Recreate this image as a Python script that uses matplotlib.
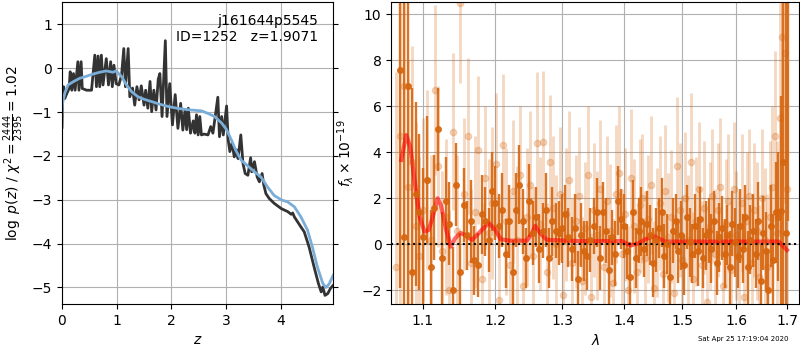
import numpy as np
import matplotlib
matplotlib.use('Agg')
import matplotlib.pyplot as plt
from matplotlib.ticker import FixedLocator, NullLocator, NullFormatter

# ---- p(z) panel ----
pz_z = [0.00, 0.01, 0.03, 0.05, 0.09, 0.13, 0.15, 0.18, 0.21, 0.24,
        0.29, 0.31, 0.35, 0.37, 0.45, 0.54, 0.60, 0.63, 0.66, 0.69,
        0.72, 0.75, 0.81, 0.85, 0.89, 0.92, 0.95, 0.99, 1.04, 1.09,
        1.13, 1.16, 1.21, 1.24, 1.29, 1.33, 1.37, 1.41, 1.45, 1.50,
        1.53, 1.57, 1.61, 1.64, 1.68, 1.72, 1.76, 1.79, 1.83, 1.89,
        1.92, 1.97, 2.02, 2.07, 2.12, 2.17, 2.21, 2.25, 2.28, 2.31,
        2.35, 2.40, 2.43, 2.46, 2.49, 2.52, 2.55, 2.60, 2.67, 2.72,
        2.76, 2.81, 2.85, 2.88, 2.92, 2.95, 3.01, 3.04, 3.07, 3.11,
        3.15, 3.19, 3.22, 3.27, 3.31, 3.35, 3.40, 3.45, 3.47, 3.52,
        3.57, 3.61, 3.66, 3.69, 3.73, 3.79, 3.88, 4.01, 4.13, 4.19,
        4.22, 4.25, 4.37, 4.43, 4.52, 4.61, 4.69, 4.74, 4.77, 4.81,
        4.86, 4.91, 4.96]
log_pz = [-1.35, -0.75, -0.42, -0.69, -0.57, -0.46, -0.08, -0.50, -0.12, -0.50,
          0.15, -0.50, 0.15, -0.46, -0.50, -0.50, 0.30, -0.42, 0.28, -0.42,
          0.30, -0.38, 0.22, -0.38, 0.15, -0.42, 0.07, -0.35, -0.38, -0.15,
          0.45, -0.42, 0.45, -0.65, -0.45, -0.84, -0.42, -0.72, -0.40, -0.84,
          -0.50, -0.91, -0.30, -0.99, -0.50, -0.95, -0.25, -0.12, -1.10, 0.63,
          -1.10, -0.35, -1.29, -0.60, -1.37, -0.80, -1.41, -0.95, -1.40, -0.91,
          -1.48, -1.20, -1.48, -1.06, -1.52, -1.10, -1.52, -1.50, -1.52, -1.33,
          -1.48, -1.03, -0.66, -1.56, -1.10, -1.52, -0.86, -1.64, -1.90, -1.70,
          -2.02, -1.86, -2.06, -1.52, -2.17, -2.40, -2.44, -2.04, -2.36, -2.13,
          -2.48, -2.59, -2.40, -2.66, -2.86, -2.97, -3.08, -3.20, -3.27, -3.33,
          -3.30, -3.39, -3.62, -3.73, -4.08, -4.53, -4.91, -5.10, -4.99, -5.18,
          -5.14, -5.02, -4.95]

chi_z = [0.00, 0.01, 0.05, 0.11, 0.20, 0.32, 0.45, 0.57, 0.69, 0.81,
         0.93, 0.99, 1.09, 1.18, 1.27, 1.39, 1.51, 1.64, 1.79, 1.97,
         2.15, 2.34, 2.55, 2.67, 2.79, 2.92, 3.01, 3.10, 3.19, 3.28,
         3.40, 3.52, 3.64, 3.76, 3.88, 4.01, 4.13, 4.25, 4.37, 4.49,
         4.58, 4.67, 4.77, 4.83, 4.89, 4.96]
chi_v = [-1.03, -0.80, -0.57, -0.38, -0.31, -0.23, -0.18, -0.13, -0.09, -0.06,
         -0.09, -0.06, -0.19, -0.38, -0.53, -0.65, -0.71, -0.76, -0.82, -0.88,
         -0.92, -0.95, -0.97, -1.03, -1.10, -1.25, -1.40, -1.64, -1.90, -2.10,
         -2.23, -2.36, -2.48, -2.71, -2.90, -3.00, -3.05, -3.16, -3.39, -3.69,
         -4.08, -4.53, -4.91, -5.00, -4.91, -4.72]

# ---- 1D spectrum panel ----
wl_a = np.linspace(1.071, 1.702, 128)
fl_a = [7.6, 0.3, 6.9, -1.2, 2.2, 1.4, 0.3, 2.8, -1.0, 1.6, 5.0, -0.6, 1.9, 0.9, -2.0, 2.6,
        -1.2, 1.7, 0.4, 1.0, -0.7, -0.9, 1.3, 1.0, 0.2, 2.3, 1.8, 0.8, 1.5, -0.4, 1.0, -1.2,
        1.5, 2.6, 1.0, -0.6, 1.9, 0.5, 1.2, -0.2, 0.6, 1.5, -0.6, 1.0, 0.6, 0.5, 0.7, 1.3,
        0.3, -0.2, 0.7, -1.5, 0.4, -0.3, -0.5, 0.2, 0.8, 1.4, -0.6, 1.4, 0.6, -1.1, 0.3, -0.4,
        1.9, 1.1, 0.8, -0.3, -1.4, 1.4, -0.6, 0.6, 1.0, -0.2, 0.9, 0.4, -0.8, 0.2, 0.7, 1.4,
        -0.5, 0.0, -1.4, 0.6, 1.0, -0.3, 0.4, -0.9, 1.2, 0.1, -0.4, 0.8, -0.3, 1.1, -0.6, 0.4,
        0.6, -0.2, 1.0, -0.8, 0.3, 0.7, -0.4, 0.4, -1.0, 0.9, 0.1, -0.5, 0.8, -0.2, 1.2, -1.0,
        0.2, 0.6, -0.4, 1.0, -1.6, 0.5, -0.3, -2.0, 0.8, -0.7, 1.4, 1.2, 1.45, 3.6, 0.5, 13.0]
er_a = [9.5, 11.0, 10.0, 8.0, 4.0, 3.4, 3.0, 2.8, 2.5, 2.3, 1.8, 2.0, 1.9, 1.8, 1.9, 1.8,
        1.7, 1.6, 1.5, 1.8, 1.5, 1.4, 1.7, 1.5, 1.4, 1.7, 1.6, 1.4, 1.6, 1.5, 1.6, 1.4,
        1.6, 1.7, 1.4, 1.3, 1.6, 1.4, 1.3, 1.5, 1.2, 1.6, 1.3, 1.5, 1.2, 1.4, 1.5, 1.3,
        1.3, 1.4, 1.5, 1.2, 1.4, 1.3, 1.5, 1.4, 1.2, 1.5, 1.4, 1.3, 1.4, 1.5, 1.2, 1.4,
        1.5, 1.3, 1.4, 1.2, 1.5, 1.4, 1.3, 1.4, 1.5, 1.2, 1.4, 1.3, 1.5, 1.4, 1.3, 1.5,
        1.4, 1.3, 1.5, 1.4, 1.2, 1.4, 1.5, 1.3, 1.4, 1.5, 1.3, 1.4, 1.5, 1.4, 1.3, 1.5,
        1.4, 1.5, 1.3, 1.4, 1.5, 1.4, 1.5, 1.3, 1.6, 1.4, 1.5, 1.4, 1.6, 1.5, 1.4, 1.6,
        1.5, 1.6, 1.5, 1.7, 1.6, 1.6, 1.7, 1.8, 1.8, 2.0, 2.2, 2.8, 5.0, 8.0, 12.0, 12.0]

wl_b = np.linspace(1.066, 1.700, 128)
fl_b = [-1.0, 4.7, 6.9, 2.5, 3.6, 0.8, -0.5, 1.5, 2.8, 0.2, 6.7, 3.4, -0.3, 1.2, -2.0, 4.9,
        0.6, 10.5, 2.2, 4.7, -0.8, 1.4, 4.1, -1.5, 2.9, 0.5, 1.8, 3.5, -2.4, 4.3, 1.0, -0.9,
        2.3, 0.2, 3.0, -1.8, 1.2, 2.6, -0.5, 4.4, 0.9, 4.45, -1.2, 3.6, 1.6, 0.0, 2.2, -2.2,
        1.3, 2.8, -0.8, 1.0, 2.1, -1.6, 0.7, 3.0, -2.3, 1.5, 0.4, 2.4, -1.0, 1.9, 0.6, -1.7,
        2.2, 3.1, -0.4, 1.3, -2.0, 2.9, 0.8, -1.2, 1.7, 2.0, -0.6, 1.1, 2.6, -1.9, 0.5, 1.8,
        -1.3, 2.3, 0.3, 1.2, -2.1, 3.4, 1.5, -0.7, 2.0, 0.2, 3.6, -1.5, 1.0, 2.4, -0.9, 1.6,
        -2.5, 0.8, 2.1, -0.4, 1.5, 2.5, -1.8, 0.9, 1.9, -1.1, 2.4, 0.4, -0.6, 1.8, -2.3, 1.0,
        2.1, -0.8, 1.5, 0.6, -1.4, 2.0, 0.2, -1.0, 1.2, 2.5, 4.7, 0.5, 5.5, 9.0, 8.3, 2.4]
er_b = [8.5, 7.5, 6.5, 5.5, 5.0, 4.5, 4.3, 4.0, 3.9, 3.7, 3.7, 3.5, 3.5, 3.4, 3.5, 3.4,
        3.3, 3.5, 3.3, 3.4, 3.2, 3.3, 3.2, 3.3, 3.1, 3.2, 3.3, 3.1, 3.2, 3.1, 3.2, 3.1,
        3.1, 3.2, 3.0, 3.1, 3.0, 3.2, 3.0, 3.1, 2.9, 3.1, 3.0, 2.9, 3.1, 3.0, 2.9, 3.0,
        2.9, 3.0, 2.8, 2.9, 3.0, 2.8, 2.9, 3.0, 2.8, 2.9, 2.8, 3.0, 2.9, 2.8, 2.9, 2.8,
        3.0, 2.9, 2.8, 2.9, 2.8, 3.0, 2.9, 2.8, 2.9, 2.8, 2.9, 2.8, 3.0, 2.9, 2.8, 2.9,
        2.8, 2.9, 2.8, 2.9, 2.8, 3.0, 2.9, 2.8, 2.9, 2.8, 3.0, 2.9, 2.8, 2.9, 2.8, 2.9,
        2.9, 2.8, 2.9, 2.8, 2.9, 3.0, 2.9, 2.8, 2.9, 3.0, 2.9, 2.8, 2.9, 3.0, 2.9, 3.0,
        2.9, 3.0, 2.9, 3.0, 3.1, 3.0, 3.1, 3.2, 3.3, 3.5, 3.7, 4.0, 5.0, 6.5, 6.5, 5.5]

mod_wl = [1.0724, 1.0788, 1.0840, 1.0918, 1.0962, 1.1026, 1.1079, 1.1124, 1.1199, 1.1244,
          1.1316, 1.1378, 1.1437, 1.1507, 1.1577, 1.1669, 1.1785, 1.1902, 1.2000, 1.2075,
          1.2213, 1.2461, 1.2536, 1.2586, 1.2661, 1.2763, 1.3300, 1.3959, 1.4098, 1.4237,
          1.4354, 1.4497, 1.4613, 1.4700, 1.5500, 1.6200, 1.6830, 1.7000]
mod_fl = [3.67, 4.75, 4.24, 2.22, 1.20, 0.55, 0.62, 1.06, 2.00, 1.71,
          0.62, -0.10, 0.26, 0.50, 0.40, 0.19, 0.55, 0.94, 0.62, 0.22,
          0.16, 0.16, 0.48, 0.80, 0.48, 0.19, 0.14, 0.14, -0.05, 0.04,
          0.22, 0.36, 0.22, 0.12, 0.12, 0.12, 0.12, -0.25]

wl_ticks = [1.1, 1.2, 1.3, 1.4, 1.5, 1.6, 1.7]

orange = '#d6660f'

fig = plt.figure(figsize=(8, 3.5), dpi=100)

ax = fig.add_axes([0.0775, 0.131, 0.339, 0.863])
ax.plot(pz_z, log_pz, color='0.2', lw=2)
ax.plot(chi_z, chi_v, color='#7aaed8', lw=2)
ax.set_xlim(0, 4.96)
ax.set_ylim(-5.38, 1.51)
ax.set_xticks([0, 1, 2, 3, 4])
ax.set_yticks([-5, -4, -3, -2, -1, 0, 1])
ax.tick_params(axis='y', right=True)
ax.grid()
ax.set_xlabel('$z$')
ax.set_ylabel(r'$\log\ p(z)$' + ' / ' + r'$\chi^2=\frac{2444}{2395}=1.02$')
ax.text(0.945, 0.96, 'j161644p5545\nID=1252   z=1.9071', transform=ax.transAxes,
        ha='right', va='top', fontsize=10)

ax2 = fig.add_axes([0.489, 0.131, 0.51, 0.863])
ax2.errorbar(wl_b, fl_b, er_b, marker='o', ms=4.5, ls='none', color=orange,
             alpha=0.25, elinewidth=2.1)
ax2.errorbar(wl_a, fl_a, er_a, marker='o', ms=4, ls='none', color=orange,
             alpha=0.9, elinewidth=1.7)
ax2.plot(mod_wl, mod_fl, color='r', alpha=0.6, lw=3)
ax2.set_xscale('log')
ax2.set_xlim(1.0596, 1.725)
ax2.set_ylim(-2.6, 10.53)
ax2.plot([1.0596, 1.725], [0, 0], color='k', ls=':', lw=1.5)
ax2.xaxis.set_major_locator(FixedLocator(wl_ticks))
ax2.set_xticklabels(['%.1f' % t for t in wl_ticks])
ax2.xaxis.set_minor_locator(NullLocator())
ax2.xaxis.set_minor_formatter(NullFormatter())
ax2.grid()
ax2.set_xlabel(r'$\lambda$')
ax2.set_ylabel(r'$f_\lambda\times10^{-19}$')

fig.text(0.985, 0.022, 'Sat Apr 25 17:19:04 2020', ha='right', va='bottom', fontsize=5)

plt.savefig('out.png')
